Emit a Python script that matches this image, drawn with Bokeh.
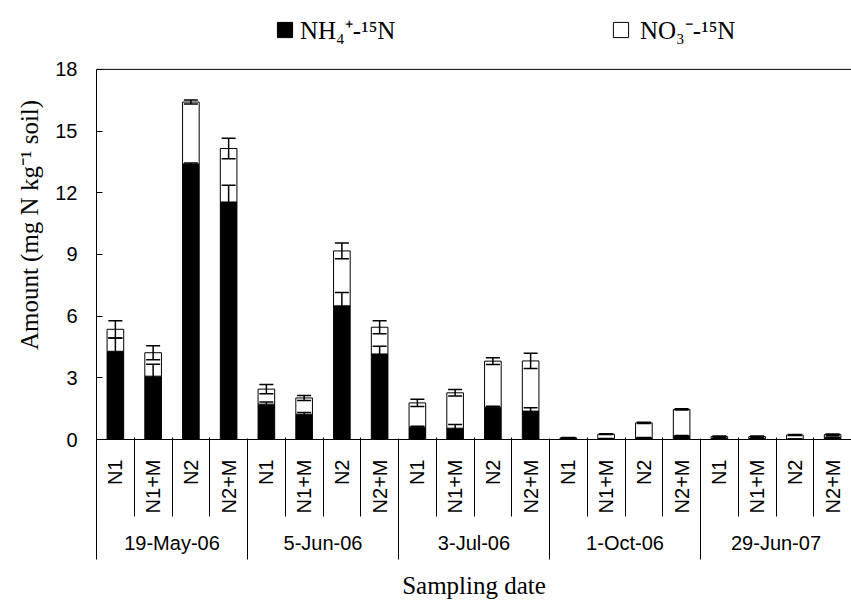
import math
from bokeh.plotting import figure
from bokeh.models import (Range1d, FixedTicker, LinearAxis, Whisker, TeeHead,
                          ColumnDataSource, Span, Legend, LegendItem)
from bokeh.embed import file_html
from bokeh.resources import INLINE

# ---------------- data ----------------
dates = ["19-May-06", "5-Jun-06", "3-Jul-06", "1-Oct-06", "29-Jun-07"]
treatments = ["N1", "N1+M", "N2", "N2+M"]

nh4 = [4.29, 3.08, 13.40, 11.55,
       1.72, 1.23, 6.50, 4.16,
       0.60, 0.55, 1.57, 1.38,
       0.04, 0.04, 0.08, 0.17,
       0.04, 0.04, 0.02, 0.10]
nh4_err = [0.65, 0.58, 0.05, 0.81,
           0.10, 0.08, 0.65, 0.37,
           0.05, 0.18, 0.05, 0.16,
           0.01, 0.01, 0.02, 0.03,
           0.01, 0.01, 0.01, 0.02]
no3 = [1.07, 1.14, 3.01, 2.60,
       0.73, 0.79, 2.67, 1.30,
       1.18, 1.72, 2.24, 2.44,
       0.04, 0.22, 0.73, 1.29,
       0.10, 0.10, 0.20, 0.14]
no3_err = [0.42, 0.34, 0.10, 0.50,
           0.22, 0.12, 0.38, 0.32,
           0.18, 0.16, 0.16, 0.37,
           0.02, 0.02, 0.03, 0.03,
           0.03, 0.03, 0.02, 0.03]

legend_labels = ["NH\u2084\u207a-\u00b9\u2075N", "NO\u2083\u207b-\u00b9\u2075N"]
y_ticks = [0, 3, 6, 9, 12, 15, 18]
y_max = 18

# ---------------- layout constants (pixels) ----------------
W, H = 851, 601
LEFT, TOP_AXIS, BOTTOM_AXIS = 96, 69, 440   # y = 18 at 69 px, y = 0 at 440 px
FRAME_TOP = 10                              # frame extends above 18 to host the legend

# ---------------- derived ----------------
n_trt = len(treatments)
n = len(nh4)
xs = [i + 0.5 for i in range(n)]
sub_labels = [treatments[i % n_trt] for i in range(n)]
total = [a + b for a, b in zip(nh4, no3)]
sub_bounds = [float(i) for i in range(1, n) if i % n_trt != 0]
group_bounds = [float(g * n_trt) for g in range(len(dates) + 1)]
group_centers = [g * n_trt + n_trt / 2 for g in range(len(dates))]
y_top = y_max * (BOTTOM_AXIS - FRAME_TOP) / (BOTTOM_AXIS - TOP_AXIS)

src = ColumnDataSource(dict(
    x=xs, nh4=nh4, total=total,
    nh4_lo=[v - e for v, e in zip(nh4, nh4_err)],
    nh4_hi=[v + e for v, e in zip(nh4, nh4_err)],
    tot_lo=[v - e for v, e in zip(total, no3_err)],
    tot_hi=[v + e for v, e in zip(total, no3_err)],
))

p = figure(width=W, height=H, x_range=Range1d(0, n), y_range=Range1d(0, y_top),
           output_backend="svg", toolbar_location=None,
           x_axis_type=None, y_axis_type=None,
           min_border_left=LEFT, min_border_top=FRAME_TOP, min_border_right=0,
           min_border_bottom=H - BOTTOM_AXIS)
p.outline_line_color = None
p.background_fill_color = "white"

SANS = "Liberation Sans"
SERIF = "Liberation Serif"

# y axis
yax = LinearAxis(ticker=FixedTicker(ticks=y_ticks), bounds=(0, y_max),
                 axis_label="Amount (mg N kg\u207b\u00b9 soil)")
yax.major_tick_in = 6
yax.major_tick_out = 0
yax.minor_tick_line_color = None
yax.axis_line_color = "black"
yax.major_tick_line_color = "black"
yax.major_label_text_font = SANS
yax.major_label_text_font_size = "20px"
yax.major_label_text_color = "black"
yax.major_label_standoff = 19
yax.axis_label_text_font = SERIF
yax.axis_label_text_font_size = "25px"
yax.axis_label_text_font_style = "normal"
yax.axis_label_text_color = "black"
yax.axis_label_standoff = 9
p.add_layout(yax, "left")

A_H = 77   # height of the treatment-label band

# x axis (level 1): treatment labels
ax_a = LinearAxis(ticker=FixedTicker(ticks=xs))
ax_a.major_label_overrides = {x: lab for x, lab in zip(xs, sub_labels)}
ax_a.major_label_orientation = math.pi / 2
ax_a.major_tick_line_color = None
ax_a.major_tick_in = 0
ax_a.major_tick_out = 0
ax_a.minor_tick_line_color = None
ax_a.minor_tick_in = 0
ax_a.minor_tick_out = 0
ax_a.axis_line_color = "black"
ax_a.major_label_text_font = SANS
ax_a.major_label_text_font_size = "20px"
ax_a.major_label_text_color = "black"
ax_a.major_label_standoff = 20
p.add_layout(ax_a, "below")

# x axis (level 2): date labels, its minor ticks reach up as treatment separators
ax_b = LinearAxis(ticker=FixedTicker(ticks=group_centers, minor_ticks=sub_bounds))
ax_b.major_label_overrides = {x: lab for x, lab in zip(group_centers, dates)}
ax_b.axis_line_color = None
ax_b.major_tick_line_color = None
ax_b.major_tick_in = 0
ax_b.major_tick_out = 0
ax_b.minor_tick_in = A_H + 2
ax_b.minor_tick_out = 0
ax_b.minor_tick_line_color = "black"
ax_b.major_label_text_font = SANS
ax_b.major_label_text_font_size = "20px"
ax_b.major_label_text_color = "black"
ax_b.major_label_standoff = 15
p.add_layout(ax_b, "below")

B_H = 39
# x axis (level 3): date separators + axis title
ax_c = LinearAxis(ticker=FixedTicker(ticks=[], minor_ticks=group_bounds),
                  axis_label="Sampling date")
ax_c.axis_line_color = None
ax_c.major_tick_line_color = None
ax_c.major_tick_in = 0
ax_c.major_tick_out = 0
ax_c.minor_tick_in = A_H + B_H + 2
ax_c.minor_tick_out = 3
ax_c.minor_tick_line_color = "black"
ax_c.major_label_standoff = 0
ax_c.axis_label_text_font = SERIF
ax_c.axis_label_text_font_size = "25px"
ax_c.axis_label_text_font_style = "normal"
ax_c.axis_label_text_color = "black"
ax_c.axis_label_standoff = 12
p.add_layout(ax_c, "below")

# bars
bw = 0.44
r_nh4 = p.vbar(x="x", top="nh4", bottom=0, width=bw, source=src,
               fill_color="black", line_color="black", line_width=1)
r_no3 = p.vbar(x="x", top="total", bottom="nh4", width=bw, source=src,
               fill_color="white", line_color="black", line_width=1)

# error bars
for lo, hi in (("nh4_lo", "nh4_hi"), ("tot_lo", "tot_hi")):
    w = Whisker(base="x", lower=lo, upper=hi, source=src, level="overlay",
                line_color="black", line_width=1.5,
                upper_head=TeeHead(size=14, line_color="black", line_width=1.5),
                lower_head=TeeHead(size=14, line_color="black", line_width=1.5))
    p.add_layout(w)

# top line of the plot area (at y = 18)
p.add_layout(Span(location=y_max, dimension="width", line_color="black", line_width=1))

# legends (inside the extended frame, above the y = 18 line)
for lab, rend, xpix, standoff in ((legend_labels[0], r_nh4, 275, 6),
                                  (legend_labels[1], r_no3, 611, 10)):
    leg = Legend(items=[LegendItem(label=lab, renderers=[rend])],
                 location=(xpix - LEFT, BOTTOM_AXIS - 47), orientation="horizontal")
    leg.border_line_color = None
    leg.background_fill_alpha = 0
    leg.padding = 0
    leg.margin = 0
    leg.glyph_width = 19
    leg.glyph_height = 19
    leg.label_standoff = standoff
    leg.label_text_font = SERIF
    leg.label_text_font_size = "25px"
    leg.label_text_color = "black"
    p.add_layout(leg)

open("out.html", "w").write(file_html(p, INLINE))
